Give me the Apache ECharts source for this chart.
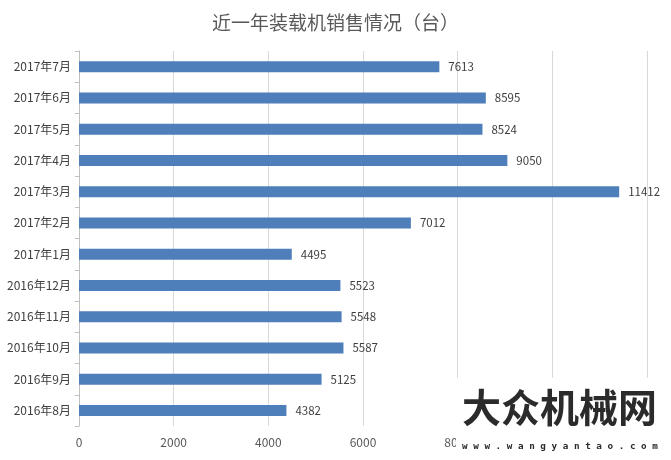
<!DOCTYPE html>
<html>
<head>
  <meta charset="utf-8" />
  <title>ECharts</title>
  <style>
    body { margin: 0; background: #ffffff; }
  </style>
  <script src="https://cdn.jsdelivr.net/npm/echarts@6/dist/echarts.min.js"></script>
</head>
<body>
  <div id="main" style="width:671px;height:460px;"></div>
  <script type="text/javascript">
    // 月份（自下而上）
    var months = ['2016年8月', '2016年9月', '2016年10月', '2016年11月', '2016年12月', '2017年1月',
      '2017年2月', '2017年3月', '2017年4月', '2017年5月', '2017年6月', '2017年7月'];
    // 销量（台）
    var sales = [4382, 5125, 5587, 5548, 5523, 4495, 7012, 11412, 9050, 8524, 8595, 7613];
    var xTicks = [0, 2000, 4000, 6000, 8000, 10000, 12000];

    var myChart = echarts.init(document.getElementById('main'));

    var option = {
      animation: false,
      backgroundColor: '#ffffff',
      title: {
        text: '近一年装载机销售情况（台）',
        left: 'center',
        top: 8,
        textStyle: { fontSize: 19, fontWeight: 'normal', color: '#595959', fontFamily: 'Noto Sans CJK SC' }
      },
      grid: { left: 79, right: 24, top: 51, bottom: 34, containLabel: false },
      xAxis: {
        type: 'value',
        min: xTicks[0],
        max: xTicks[xTicks.length - 1],
        interval: 2000,
        axisLine: { show: false },
        axisTick: { show: false },
        axisLabel: {
          color: '#595959', fontSize: 12, margin: 10, fontFamily: 'Noto Sans CJK SC',
          formatter: function (v) { return String(v); }
        },
        splitLine: { show: true, lineStyle: { color: '#d9d9d9' } }
      },
      yAxis: {
        type: 'category',
        data: months,
        axisLine: { show: true, lineStyle: { color: '#bfbfbf' } },
        axisTick: { show: true, length: 4, lineStyle: { color: '#bfbfbf' } },
        axisLabel: { color: '#404040', fontSize: 12, margin: 8, fontFamily: 'Noto Sans CJK SC' }
      },
      series: [{
        type: 'bar',
        data: sales,
        barWidth: 11,
        itemStyle: { color: '#4f7fba' },
        label: {
          show: true,
          position: 'right',
          distance: 9,
          color: '#404040',
          fontSize: 11.5,
          fontFamily: 'Noto Sans CJK SC'
        }
      }],
      graphic: [
        { type: 'rect', left: 456, top: 378, shape: { width: 215, height: 82 }, style: { fill: '#ffffff' }, z: 100 },
        { type: 'text', left: 462, top: 388, z: 101,
          style: { text: '大众机械网', font: 'bold 39px "Noto Sans CJK SC"', fill: '#2b2b2b' } },
        { type: 'text', left: 462, top: 442, z: 101,
          style: { text: 'w w w . w a n g y a n t a o . c o m', font: 'bold 9.3px "DejaVu Sans Mono"', fill: '#2b2b2b' } }
      ]
    };
    myChart.setOption(option);
  </script>
</body>
</html>
